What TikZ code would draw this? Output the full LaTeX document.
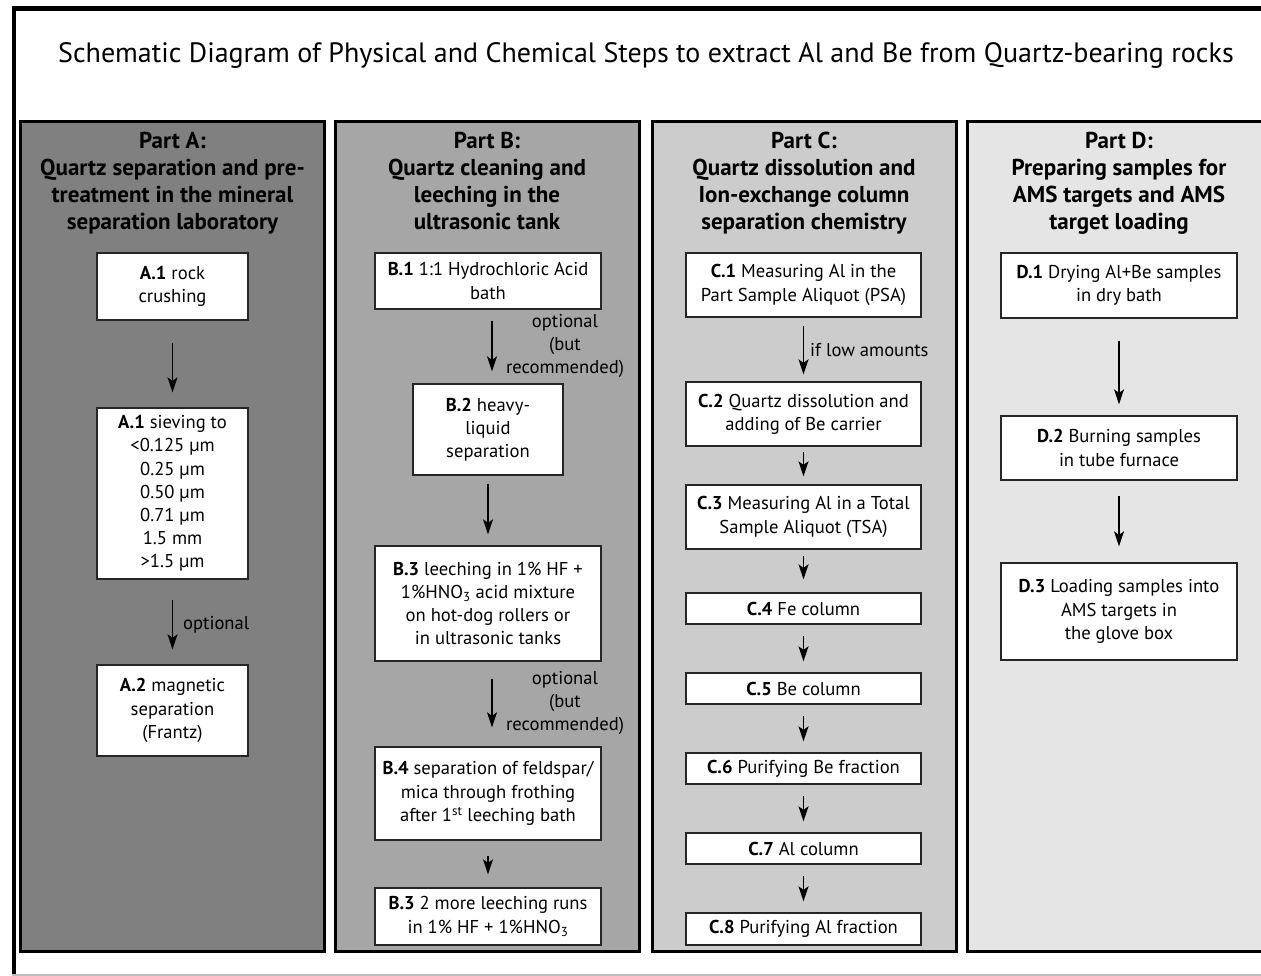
\documentclass[tikz,border=0pt]{standalone}
\usepackage{fontspec}
\setmainfont{PT Sans}
\usetikzlibrary{arrows.meta}
\definecolor{panelA}{gray}{0.50}
\definecolor{panelB}{gray}{0.65}
\definecolor{panelC}{gray}{0.80}
\definecolor{panelD}{gray}{0.90}
\newcommand\bxf{\fontsize{18.6}{23.2}\selectfont}
\begin{document}
\begin{tikzpicture}[x=1pt,y=-1pt,
  box/.style={draw=black!85, line width=1.3pt, fill=white, inner sep=0pt, align=center, font=\bxf},
  arr/.style={line width=1.5pt, -{Stealth[length=15pt,width=10pt,inset=3.5pt]}},
  panel/.style={draw=black, line width=3pt},
  ptitle/.style={font=\fontsize{23}{27}\selectfont\bfseries, align=center, inner sep=0pt, anchor=north},
  lbl/.style={font=\bxf, inner sep=0pt, align=center}]
\clip (0,0) rectangle (1261,976);
\fill[white] (0,0) rectangle (1261,976);
% outer frame
\draw[line width=4.5pt] (14,980) -- (14,8.5) -- (1270,8.5);
\draw[black!25, line width=1.5pt] (12,975) -- (1270,975);
% title
\node[font=\fontsize{28}{32}\selectfont, anchor=base, inner sep=0pt] (title) at (646,63)
  {Schematic Diagram of Physical and Chemical Steps to extract Al and Be from Quartz-bearing rocks};
% panels
\draw[panel, fill=panelA] (20.5,121.5) rectangle (324.5,951.5);
\draw[panel, fill=panelB] (335.5,121.5) rectangle (639,951.5);
\draw[panel, fill=panelC] (652.5,121.5) rectangle (956,951.5);
\draw[panel, fill=panelD] (967,121.5) rectangle (1290,951.5);
% panel titles
\node[ptitle] (tA) at (172.5,132) {Part A:\\Quartz separation and pre-\\treatment in the mineral\\separation laboratory};
\node[ptitle] (tB) at (487,132) {Part B:\\Quartz cleaning and\\leeching in the\\ultrasonic tank};
\node[ptitle] (tC) at (804,132) {Part C:\\Quartz dissolution and\\Ion-exchange column\\separation chemistry};
\node[ptitle] (tD) at (1119,132) {Part D:\\Preparing samples for\\AMS targets and AMS\\target loading};
% Part A
\node[box, minimum width=151pt, minimum height=67pt] (A1) at (172.5,286.5) {\textbf{A.1} rock\\crushing};
\node[box, minimum width=151pt, minimum height=171pt] (A1s) at (172.5,493.5) {\textbf{A.1} sieving to\\<0.125 µm\\0.25 µm\\0.50 µm\\0.71 µm\\1.5 mm\\>1.5 µm};
\node[box, minimum width=151pt, minimum height=91pt] (A2) at (172.5,710.5) {\textbf{A.2} magnetic\\separation\\(Frantz)};
\draw[arr, shorten <=22pt, shorten >=15pt] (A1) -- (A1s);
\draw[arr, shorten <=20pt, shorten >=15pt] (A1s) -- (A2);
\node[lbl, anchor=west] (optA) at (183,625) {optional};
% Part B
\node[box, minimum width=226pt, minimum height=56pt] (B1) at (488,281) {\textbf{B.1} 1:1 Hydrochloric Acid\\bath};
\node[box, minimum width=150pt, minimum height=91pt] (B2) at (488,429.5) {\textbf{B.2} heavy-\\liquid\\separation};
\node[box, minimum width=226pt, minimum height=115pt] (B3) at (488,603.5) {\textbf{B.3} leeching in 1\% HF +\\1\%HNO\textsubscript{3} acid mixture\\on hot-dog rollers or\\in ultrasonic tanks};
\node[box, minimum width=226pt, minimum height=93pt] (B4) at (488,793.5) {\textbf{B.4} separation of feldspar/\\mica through frothing\\after 1\textsuperscript{st} leeching bath};
\node[box, minimum width=226pt, minimum height=57pt] (B5) at (488,916.5) {\textbf{B.3} 2 more leeching runs\\in 1\% HF + 1\%HNO\textsubscript{3}};
\draw[arr, shorten <=11pt, shorten >=12pt] ([xshift=4pt]B1.south) -- ([xshift=4pt]B2.north);
\draw[arr, shorten <=8pt, shorten >=11pt] (B2) -- (B3);
\draw[arr, shorten <=17pt, shorten >=19pt] ([xshift=4pt]B3.south) -- ([xshift=4pt]B4.north);
\draw[arr, shorten <=15pt, shorten >=13pt] (B4) -- (B5);
\node[lbl] (optB1) at (565,346) {optional\\(but\\recommended)};
\node[lbl] (optB2) at (565,703) {optional\\(but\\recommended)};
% Part C
\node[box, minimum width=235pt, minimum height=64pt] (C1) at (803.5,285) {\textbf{C.1} Measuring Al in the\\Part Sample Aliquot (PSA)};
\node[box, minimum width=235pt, minimum height=64pt] (C2) at (803.5,414) {\textbf{C.2} Quartz dissolution and\\adding of Be carrier};
\node[box, minimum width=235pt, minimum height=64pt] (C3) at (803.5,517) {\textbf{C.3} Measuring Al in a Total\\Sample Aliquot (TSA)};
\node[box, minimum width=235pt, minimum height=31pt] (C4) at (803.5,608.5) {\textbf{C.4} Fe column};
\node[box, minimum width=235pt, minimum height=31pt] (C5) at (803.5,688.5) {\textbf{C.5} Be column};
\node[box, minimum width=235pt, minimum height=31pt] (C6) at (803.5,768.5) {\textbf{C.6} Purifying Be fraction};
\node[box, minimum width=235pt, minimum height=31pt] (C7) at (803.5,848.5) {\textbf{C.7} Al column};
\node[box, minimum width=235pt, minimum height=32pt] (C8) at (803.5,929) {\textbf{C.8} Purifying Al fraction};
\draw[arr, shorten <=8pt, shorten >=7pt] (C1) -- (C2);
\node[lbl, anchor=west] (low) at (810,350) {if low amounts};
\draw[arr, shorten <=5pt, shorten >=8pt] (C2) -- (C3);
\draw[arr, shorten <=6pt, shorten >=13pt] (C3) -- (C4);
\draw[arr, shorten <=11pt, shorten >=11pt] (C4) -- (C5);
\draw[arr, shorten <=11pt, shorten >=11pt] (C5) -- (C6);
\draw[arr, shorten <=11pt, shorten >=11pt] (C6) -- (C7);
\draw[arr, shorten <=11pt, shorten >=11pt] (C7) -- (C8);
% Part D
\node[box, minimum width=236pt, minimum height=65pt] (D1) at (1119,285.5) {\textbf{D.1} Drying Al+Be samples\\in dry bath};
\node[box, minimum width=236pt, minimum height=64pt] (D2) at (1119,448) {\textbf{D.2} Burning samples\\in tube furnace};
\node[box, minimum width=236pt, minimum height=97pt] (D3) at (1119,611.5) {\textbf{D.3} Loading samples into\\AMS targets in\\the glove box};
\draw[arr, shorten <=22pt, shorten >=11pt] (D1) -- (D2);
\draw[arr, shorten <=15pt, shorten >=16pt] (D2) -- (D3);
\end{tikzpicture}
\end{document}
